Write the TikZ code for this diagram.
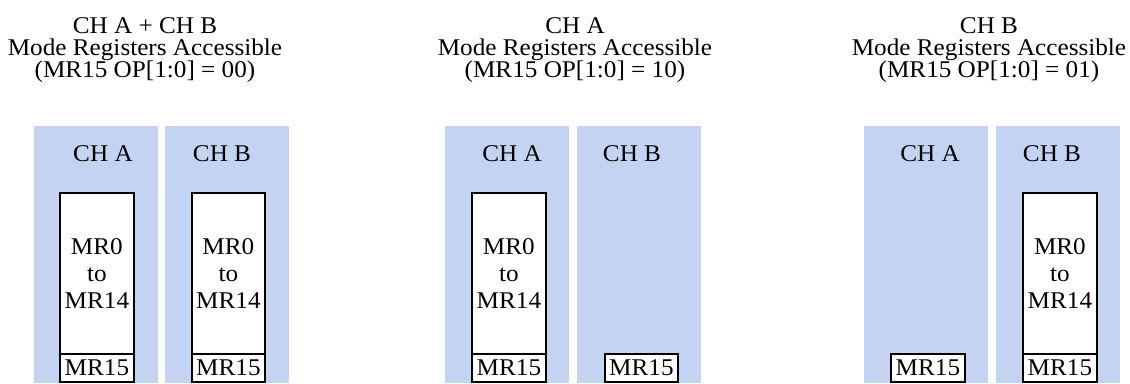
\documentclass[tikz,border=0pt]{standalone}
\usepackage{fontspec}
\setmainfont{Liberation Serif}[FakeStretch=1.05]
\definecolor{panelblue}{RGB}{197,211,243}
\tikzset{
  panel/.style={fill=panelblue, draw=none, minimum width=124pt, minimum height=257pt, anchor=north west, inner sep=0pt},
  regbox/.style={fill=white, draw=black, line width=2.3pt, minimum width=73.5pt, inner sep=0pt},
  mainreg/.style={regbox, minimum height=161pt, anchor=north west},
  lastreg/.style={regbox, minimum height=28pt, anchor=north west},
  txt/.style={font=\fontsize{24}{27}\selectfont, inner sep=0pt, align=center},
  title/.style={font=\fontsize{24}{22}\selectfont, inner sep=0pt, align=center, anchor=north},
}
\begin{document}
\begin{tikzpicture}[x=1pt,y=-1pt]
\useasboundingbox (0,0) rectangle (1130,383);
% ---------- group 1 ----------
\node[title] (t1) at (145,17) {CH A + CH B\\Mode Registers Accessible\\(MR15 OP[1:0] = 00)};
\node[panel] (p1a) at (34,126) {};
\node[panel] (p1b) at (165,126) {};
\node[txt] (l1a) at (103,153.5) {CH A};
\node[txt] (l1b) at (222,153.5) {CH B};
\node[mainreg] (r1a) at (59,192) {};
\node[txt] at (r1a.center) (x1a) {MR0\\to\\MR14};
\node[lastreg] (m1a) at (59,353) {};
\node[txt] at (m1a.center) (y1a) {MR15};
\node[mainreg] (r1b) at (190.5,192) {};
\node[txt] at (r1b.center) (x1b) {MR0\\to\\MR14};
\node[lastreg] (m1b) at (190.5,353) {};
\node[txt] at (m1b.center) (y1b) {MR15};
% ---------- group 2 ----------
\node[title] (t2) at (575,17) {CH A\\Mode Registers Accessible\\(MR15 OP[1:0] = 10)};
\node[panel] (p2a) at (445,126) {};
\node[panel] (p2b) at (577,126) {};
\node[txt] (l2a) at (512,153.5) {CH A};
\node[txt] (l2b) at (632,153.5) {CH B};
\node[mainreg] (r2a) at (471,192) {};
\node[txt] at (r2a.center) (x2a) {MR0\\to\\MR14};
\node[lastreg] (m2a) at (471,353) {};
\node[txt] at (m2a.center) (y2a) {MR15};
\node[lastreg] (m2b) at (603.5,353) {};
\node[txt] at (m2b.center) (y2b) {MR15};
% ---------- group 3 ----------
\node[title] (t3) at (989,17) {CH B\\Mode Registers Accessible\\(MR15 OP[1:0] = 01)};
\node[panel] (p3a) at (864,126) {};
\node[panel] (p3b) at (996,126) {};
\node[txt] (l3a) at (930,153.5) {CH A};
\node[txt] (l3b) at (1052,153.5) {CH B};
\node[lastreg] (m3a) at (890,353) {};
\node[txt] at (m3a.center) (y3a) {MR15};
\node[mainreg] (r3b) at (1022,192) {};
\node[txt] at (r3b.center) (x3b) {MR0\\to\\MR14};
\node[lastreg] (m3b) at (1022,353) {};
\node[txt] at (m3b.center) (y3b) {MR15};
\end{tikzpicture}
\end{document}
